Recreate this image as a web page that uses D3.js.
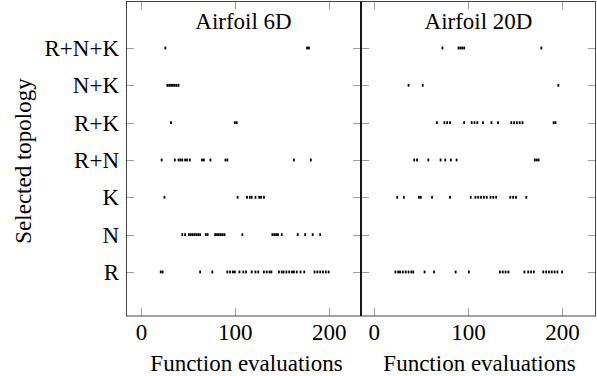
<!DOCTYPE html>
<html><head><meta charset="utf-8">
<script src="https://cdn.jsdelivr.net/npm/d3@7"></script>
<style>body{margin:0;background:#fff}svg{display:block}</style>
</head><body><svg id="c" width="597" height="376"></svg>
<script>
const categories = ["R","N","K","R+N","R+K","N+K","R+N+K"];
const panelTitles = ["Airfoil 6D","Airfoil 20D"];
const xTicks = [0,100,200];
const xLabel = "Function evaluations";
const yLabel = "Selected topology";

// Left panel (Airfoil 6D): function evaluations at which each topology was selected
const a6_R = [21,23,63,76,92,95,98,100,105,109,112,118,122,125,131,134,137,139,147,150,152,155,158,161,163,166,170,174,185,188,191,194,197,200];
const a6_N = [44,47,51,53,55,57,59,61,63,69,71,79,81,83,85,87,89,108,140,142,144,146,150,167,175,183,191];
const a6_K = [25,103,113,116,118,122,126,128,131];
const a6_RN = [22,36,40,42,44,47,49,52,65,67,74,90,92,163,181];
const a6_RK = [32,100,102];
const a6_NK = [28,30,32,34,36,38,40];
const a6_RNK = [26,177,179];

// Right panel (Airfoil 20D)
const a20_R = [23,26,28,31,34,37,40,42,54,64,87,101,134,137,140,143,160,164,167,170,180,183,186,189,192,195,200];
const a20_N = [];
const a20_K = [25,32,48,50,62,81,103,108,111,114,117,120,124,127,130,145,148,151,162];
const a20_RN = [43,46,58,71,76,82,88,171,173,175];
const a20_RK = [67,75,78,81,96,104,107,110,116,125,132,146,149,152,155,158,191,193];
const a20_NK = [37,52,196];
const a20_RNK = [73,90,92,94,96,178];

const FONT = "Liberation Serif, DejaVu Serif, serif";

const panels = [
  {title: panelTitles[0], series: [a6_R,a6_N,a6_K,a6_RN,a6_RK,a6_NK,a6_RNK], x0:126, x1:361, dom:[-16,234.5]},
  {title: panelTitles[1], series: [a20_R,a20_N,a20_K,a20_RN,a20_RK,a20_NK,a20_RNK], x0:361, x1:596, dom:[-13.5,236]}
];

const svg = d3.select("#c");
const yTop = 1.5, yBot = 316;
const y = d3.scaleLinear().domain([-1.18, 7.246]).range([yBot, yTop]);

function txt(sel){ return sel.attr("font-family", FONT).attr("fill", "#000"); }

panels.forEach((p, pi) => {
  const x = d3.scaleLinear().domain(p.dom).range([p.x0, p.x1]);
  const g = svg.append("g");
  const tl = 8;
  xTicks.forEach(t => {
    const px = Math.round(x(t)) + 0.5;
    g.append("line").attr("x1",px).attr("x2",px).attr("y1",yBot).attr("y2",yBot-tl).attr("stroke","#a0a0a0");
    g.append("line").attr("x1",px).attr("x2",px).attr("y1",yTop).attr("y2",yTop+tl).attr("stroke","#a0a0a0");
  });
  categories.forEach((c, i) => {
    const py = Math.round(y(i)) + 0.5;
    g.append("line").attr("x1",p.x0).attr("x2",p.x0+tl).attr("y1",py).attr("y2",py).attr("stroke","#a0a0a0");
    g.append("line").attr("x1",p.x1-tl).attr("x2",p.x1).attr("y1",py).attr("y2",py).attr("stroke","#a0a0a0");
  });
  p.series.forEach((arr, i) => {
    g.selectAll(null).data(arr).enter().append("rect")
      .attr("x", d => x(d) - 0.9).attr("y", y(i) - 1.4)
      .attr("width", 1.8).attr("height", 2.8).attr("fill", "#000");
  });
  g.append("rect").attr("x", p.x0 + 0.5).attr("y", yTop).attr("width", p.x1 - p.x0 - 1).attr("height", yBot - yTop)
    .attr("fill","none").attr("stroke","#444").attr("stroke-width",1);
  const xa = d3.axisBottom(x).tickValues(xTicks).tickSize(0).tickPadding(0);
  const ag = g.append("g").attr("transform",`translate(0,${yBot})`).call(xa);
  ag.attr("font-family", FONT).attr("font-size", 23);
  ag.select(".domain").remove();
  txt(ag.selectAll("text")).attr("font-size",23).attr("dy",null).attr("y",24);
  txt(g.append("text")).attr("x",(p.x0+p.x1)/2).attr("y",28.5).attr("text-anchor","middle").attr("font-size",23).text(p.title);
  txt(g.append("text")).attr("x",(p.x0+p.x1)/2 + (pi===0?3:1)).attr("y",371).attr("text-anchor","middle").attr("font-size",23).text(xLabel);
});

svg.append("line").attr("x1",361).attr("x2",361).attr("y1",yTop).attr("y2",yBot).attr("stroke","#000").attr("stroke-width",1.3);

const ya = d3.axisLeft(y).tickValues(d3.range(categories.length)).tickFormat(i => categories[i]).tickSize(0).tickPadding(0);
const yg = svg.append("g").attr("transform","translate(119,0)").call(ya);
yg.attr("font-family", FONT).attr("font-size", 23);
yg.select(".domain").remove();
txt(yg.selectAll("text")).attr("font-size",23).attr("dy","0.33em").attr("x",0);

txt(svg.append("text")).attr("transform","translate(31,161) rotate(-90)").attr("text-anchor","middle").attr("font-size",23).text(yLabel);
</script></body></html>
